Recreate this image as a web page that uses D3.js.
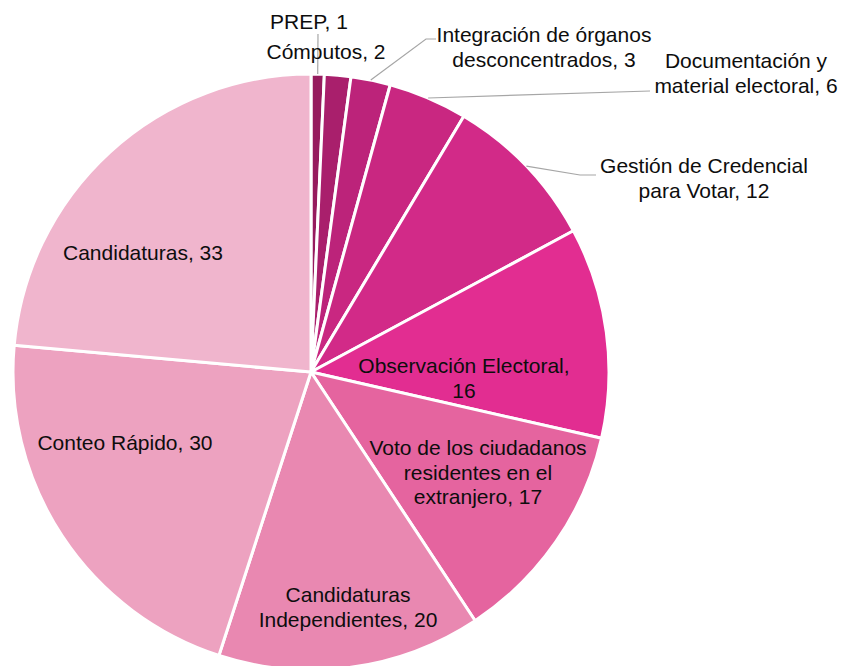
<!DOCTYPE html>
<html>
<head>
<meta charset="utf-8">
<script src="https://cdn.jsdelivr.net/npm/d3@7"></script>
<style>
  html, body { margin: 0; padding: 0; background: #fff; }
</style>
</head>
<body>
<div class="pie"></div>
<script>
// Paramètres
const width = 842;
const height = 666;
const cx = 311, cy = 372, radius = 298;

// Données
const categories = [
  'PREP', 'Cómputos', 'Integración de órganos desconcentrados',
  'Documentación y material electoral', 'Gestión de Credencial para Votar',
  'Observación Electoral', 'Voto de los ciudadanos residentes en el extranjero',
  'Candidaturas Independientes', 'Conteo Rápido', 'Candidaturas'
];
const values = [1, 2, 3, 6, 12, 16, 17, 20, 30, 33];
const colors = [
  '#961b5e', '#a91f6c', '#bc237a', '#c92781', '#d22a88',
  '#e22d91', '#e5649f', '#e988b1', '#eda2c0', '#f0b5cd'
];
// texte des étiquettes (lignes)
const labelLines = [
  ['PREP, 1'],
  ['Cómputos, 2'],
  ['Integración de órganos', 'desconcentrados, 3'],
  ['Documentación y', 'material electoral, 6'],
  ['Gestión de Credencial', 'para Votar, 12'],
  ['Observación Electoral,', '16'],
  ['Voto de los ciudadanos', 'residentes en el', 'extranjero, 17'],
  ['Candidaturas', 'Independientes, 20'],
  ['Conteo Rápido, 30'],
  ['Candidaturas, 33']
];
// position des étiquettes (centre x, ligne de base de la 1re ligne)
const labelPos = [
  [309, 29], [326, 59], [544, 42], [746, 68], [704, 173],
  [464, 373], [478, 455], [348, 602], [125, 450], [143, 260]
];
// lignes de rappel : index de la part -> points d'arrivée
const leaders = [
  { i: 0, pts: [[318, 34]] },
  { i: 2, pts: [[426, 39], [436, 39]] },
  { i: 3, pts: [[650, 91]] },
  { i: 4, pts: [[580, 175], [596, 175]] }
];

const data = categories.map((c, i) => ({ name: c, value: values[i], i: i }));

const svg = d3.select('.pie')
  .append('svg')
  .attr('width', width)
  .attr('height', height)
  .attr('style', 'font-family: "Liberation Sans", Arial, sans-serif');

const pie = d3.pie()
  .value(d => d.value)
  .sort(null)
  .startAngle(0)
  .endAngle(2 * Math.PI);

const arcs = pie(data);

const arc = d3.arc()
  .innerRadius(0)
  .outerRadius(radius);

const edgeArc = d3.arc()
  .innerRadius(radius)
  .outerRadius(radius);

const g = svg.append('g')
  .attr('transform', `translate(${cx}, ${cy})`);

g.selectAll('path')
  .data(arcs)
  .join('path')
    .attr('d', arc)
    .attr('fill', d => colors[d.data.i])
    .attr('stroke', '#fff')
    .attr('stroke-width', 3)
    .attr('stroke-linejoin', 'round');

// lignes de rappel
const line = d3.line();
svg.append('g')
  .selectAll('path')
  .data(leaders)
  .join('path')
    .attr('d', d => {
      const c = edgeArc.centroid(arcs[d.i]);
      return line([[c[0] + cx, c[1] + cy], ...d.pts]);
    })
    .attr('fill', 'none')
    .attr('stroke', '#a6a6a6')
    .attr('stroke-width', 1.2);

// étiquettes
const labels = svg.append('g')
  .attr('text-anchor', 'middle')
  .style('font-size', '21px')
  .style('fill', '#0d0d0d');

labels.selectAll('text')
  .data(arcs)
  .join('text')
    .attr('x', d => labelPos[d.data.i][0])
    .attr('y', d => labelPos[d.data.i][1])
    .each(function (d) {
      const t = d3.select(this);
      labelLines[d.data.i].forEach((s, k) => {
        t.append('tspan')
          .attr('x', labelPos[d.data.i][0])
          .attr('dy', k === 0 ? 0 : 24.5)
          .text(s);
      });
    });
</script>
</body>
</html>
